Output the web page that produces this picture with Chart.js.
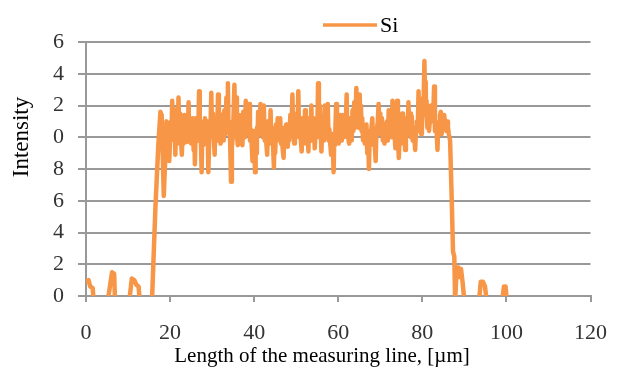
<!DOCTYPE html>
<html>
<head>
<meta charset="utf-8">
<script src="https://cdn.jsdelivr.net/npm/chart.js@4"></script>
<style>
  html, body { margin: 0; padding: 0; background: #fff; }
  #wrap { width: 625px; height: 386px; }
</style>
</head>
<body>
<div id="wrap"><canvas id="siChart" width="625" height="386"></canvas></div>
<script>
// Si line scan: distance along the measuring line [µm] and intensity
const distance = [
  0, 0.6, 1.0, 1.6, 1.8, 5.2, 5.8, 6.2, 6.7, 6.9,
  10.3, 10.9, 11.5, 12.0, 12.5, 12.8, 15.7, 16.5, 17.2, 17.7,
  18.0, 18.5, 18.75, 19.0, 19.15, 19.3, 19.55, 19.8, 20.0, 20.2,
  20.35, 20.5, 20.7, 20.9, 21.1, 21.25, 21.45, 21.6, 21.8, 22.0,
  22.2, 22.4, 22.6, 22.8, 23.0, 23.2, 23.4, 23.6, 23.8, 24.0,
  24.2, 24.4, 24.6, 24.8, 25.0, 25.2, 25.4, 25.6, 25.75, 25.9,
  26.15, 26.4, 26.65, 26.9, 27.05, 27.2, 27.35, 27.5, 27.7, 27.9,
  28.1, 28.3, 28.5, 28.7, 28.9, 29.1, 29.3, 29.5, 29.65, 29.8,
  30.0, 30.2, 30.4, 30.6, 30.8, 31.0, 31.2, 31.4, 31.6, 31.8,
  32.0, 32.2, 32.4, 32.6, 32.75, 32.9, 33.15, 33.4, 33.6, 33.75,
  33.9, 34.1, 34.3, 34.5, 34.7, 34.9, 35.1, 35.3, 35.5, 35.7,
  35.9, 36.1, 36.3, 36.5, 36.7, 36.9, 37.05, 37.2, 37.4, 37.6,
  37.8, 38.0, 38.2, 38.4, 38.6, 38.8, 39.0, 39.2, 39.4, 39.6,
  39.9, 40.2, 40.35, 40.5, 40.65, 40.8, 40.95, 41.1, 41.3, 41.5,
  41.7, 41.9, 42.1, 42.3, 42.5, 42.7, 42.9, 43.1, 43.3, 43.5,
  43.7, 43.9, 44.1, 44.3, 44.5, 44.7, 44.85, 45.0, 45.2, 45.4,
  45.6, 45.8, 46.0, 46.2, 46.4, 46.6, 46.8, 47.0, 47.2, 47.4,
  47.6, 47.8, 48.0, 48.2, 48.4, 48.6, 48.85, 49.1, 49.25, 49.4,
  49.55, 49.7, 49.9, 50.1, 50.3, 50.5, 50.7, 50.9, 51.1, 51.3,
  51.5, 51.7, 51.9, 52.1, 52.3, 52.5, 52.7, 52.9, 53.1, 53.3,
  53.45, 53.6, 53.8, 54.0, 54.2, 54.4, 54.6, 54.8, 55.0, 55.2,
  55.4, 55.6, 55.8, 56.0, 56.2, 56.4, 56.6, 56.8, 57.0, 57.2,
  57.35, 57.5, 57.7, 57.9, 58.1, 58.3, 58.6, 58.9, 59.05, 59.2,
  59.35, 59.5, 59.7, 59.9, 60.1, 60.3, 60.5, 60.7, 60.85, 61.0,
  61.25, 61.5, 61.75, 62.0, 62.15, 62.3, 62.45, 62.6, 62.8, 63.0,
  63.2, 63.4, 63.6, 63.8, 64.05, 64.3, 64.5, 64.7, 64.9, 65.1,
  65.25, 65.4, 65.55, 65.7, 65.9, 66.1, 66.3, 66.5, 66.7, 66.9,
  67.1, 67.3, 67.5, 67.7, 67.9, 68.1, 68.3, 68.5, 68.7, 68.9,
  69.05, 69.2, 69.4, 69.6, 69.8, 70.0, 70.2, 70.4, 70.6, 70.8,
  71.0, 71.2, 71.4, 71.6, 71.8, 72.0, 72.25, 72.5, 72.7, 72.9,
  73.05, 73.2, 73.4, 73.6, 73.8, 74.0, 74.2, 74.4, 74.6, 74.8,
  75.0, 75.2, 75.4, 75.6, 75.75, 75.9, 76.1, 76.3, 76.5, 76.7,
  76.9, 77.1, 77.3, 77.5, 77.7, 77.9, 78.1, 78.3, 78.5, 78.7,
  78.9, 79.1, 79.3, 79.5, 79.7, 79.9, 80.05, 80.2, 80.35, 80.5,
  80.65, 80.8, 80.9, 81.0, 81.2, 81.4, 81.6, 81.8, 82.05, 82.3,
  82.55, 82.8, 83.0, 83.2, 83.4, 83.6, 83.8, 84.0, 84.2, 84.4,
  84.6, 84.8, 85.0, 85.2, 85.45, 85.7, 85.9, 86.1, 86.3, 86.6,
  87.0, 87.3, 87.6, 87.8, 88.2, 88.6, 88.9, 89.2, 89.6, 90.0,
  93.5, 93.9, 94.4, 94.9, 95.3, 99.0, 99.4, 99.8, 100.1, 101.0
];
const intensity = [
  0.9, 1.0, 0.6, 0.5, -0.3, -0.3, 0.8, 1.5, 1.4, -0.3,
  -0.3, 1.1, 1.0, 0.7, 0.6, -0.3, -0.3, 5.5, 9.5, 11.6,
  11.4, 6.3, 8.0, 9.2, 11.0, 10.0, 9.8, 8.5, 9.8, 11.0,
  10.2, 12.3, 10.0, 11.8, 10.6, 8.9, 11.2, 10.5, 9.6, 12.5,
  10.2, 11.5, 9.8, 8.9, 10.8, 9.6, 11.4, 10.8, 9.7, 11.2,
  10.0, 12.2, 9.8, 11.0, 9.6, 10.0, 11.2, 9.2, 10.6, 8.3,
  11.2, 10.5, 9.8, 12.9, 10.2, 11.0, 9.6, 7.8, 10.8, 9.5,
  10.6, 11.2, 9.6, 10.0, 11.0, 7.8, 9.8, 10.5, 11.0, 12.8,
  10.2, 11.5, 10.0, 8.9, 11.2, 10.5, 9.8, 12.7, 10.4, 11.5,
  9.6, 10.0, 11.4, 10.8, 9.8, 11.7, 10.2, 12.5, 10.6, 13.4,
  10.4, 11.0, 9.6, 7.2, 9.4, 10.0, 11.4, 13.3, 10.6, 12.5,
  10.2, 9.5, 11.4, 11.0, 9.6, 10.5, 11.4, 9.5, 11.6, 10.8,
  10.0, 12.3, 10.2, 11.5, 10.4, 12.1, 9.8, 10.5, 9.6, 8.5,
  10.4, 7.8, 9.8, 9.0, 10.6, 10.0, 11.6, 11.0, 10.2, 12.1,
  10.6, 11.2, 10.0, 12.0, 9.8, 10.5, 9.6, 8.9, 11.0, 10.2,
  9.6, 11.7, 9.8, 10.6, 9.4, 8.1, 10.0, 9.0, 10.8, 10.0,
  11.2, 10.8, 9.8, 11.2, 9.6, 10.0, 9.2, 8.7, 10.6, 9.5,
  10.8, 10.0, 9.4, 10.8, 9.8, 11.4, 10.2, 12.7, 10.4, 11.5,
  9.6, 10.0, 11.2, 11.5, 10.2, 12.9, 10.0, 11.0, 9.8, 9.1,
  11.2, 10.5, 9.8, 11.7, 9.6, 10.5, 11.0, 9.1, 11.2, 10.8,
  9.8, 12.0, 10.0, 10.5, 11.2, 9.3, 10.4, 11.0, 10.0, 13.4,
  10.8, 12.0, 10.4, 9.1, 11.0, 10.5, 9.8, 12.0, 10.2, 11.5,
  10.0, 12.1, 9.8, 10.5, 9.6, 8.9, 10.2, 7.8, 10.0, 9.5,
  10.8, 12.1, 10.0, 11.0, 9.6, 10.0, 11.4, 10.8, 9.8, 11.4,
  10.0, 11.0, 10.4, 12.7, 10.0, 11.0, 9.8, 9.6, 11.2, 10.5,
  9.8, 11.7, 10.4, 12.2, 10.6, 13.1, 10.8, 12.0, 10.6, 12.7,
  10.8, 12.0, 10.4, 11.2, 9.8, 10.5, 9.6, 10.0, 10.8, 9.0,
  10.2, 8.0, 10.4, 9.5, 10.6, 11.2, 9.6, 10.0, 9.4, 8.5,
  10.2, 10.5, 11.0, 12.1, 10.2, 11.5, 10.2, 11.2, 9.8, 10.5,
  9.6, 10.0, 10.8, 11.0, 9.8, 11.7, 10.2, 11.0, 10.0, 12.3,
  10.0, 11.0, 10.2, 9.3, 10.8, 12.3, 10.2, 8.7, 10.0, 10.5,
  9.6, 11.5, 10.2, 10.0, 11.2, 9.2, 10.4, 11.0, 10.2, 12.2,
  10.4, 11.5, 10.0, 11.3, 9.8, 10.5, 10.0, 9.2, 10.6, 11.0,
  10.4, 12.9, 10.6, 11.5, 10.2, 10.6, 11.6, 12.5, 13.0, 14.8,
  12.2, 13.5, 11.4, 12.3, 10.6, 11.2, 10.4, 10.4, 12.0, 11.8,
  11.0, 13.2, 10.4, 11.0, 10.4, 9.2, 10.8, 10.5, 11.4, 11.6,
  10.2, 11.2, 10.6, 11.4, 10.8, 10.4, 11.0, 10.6, 10.2, 9.8,
  6.0, 2.8, 2.5, -0.3, 1.8, 1.8, 1.2, 1.7, 0.8, -0.3,
  -0.3, 0.9, 0.9, 0.6, -0.3, -0.3, 0.6, 0.6, -0.3, -0.3
];

// Axis tick labels as printed on the original (values 0..16 step 2)
const yTickLabels = ["0", "2", "4", "6", "8", "0", "2", "4", "6"];
const xTickLabels = ["0", "20", "40", "60", "80", "100", "120"];

const seriesName = "Si";
const xTitle = "Length of the measuring line, [\u00b5m]";
const yTitle = "Intensity";

const lineColor = "#F79646";
const gridColor = "#999999";
const serif = "'Liberation Serif', 'Times New Roman', serif";

// Draw legend and axis titles at fixed spots
const textPlugin = {
  id: "textPlugin",
  afterDraw(chart) {
    const ctx = chart.ctx;
    ctx.save();
    // legend
    ctx.strokeStyle = lineColor;
    ctx.lineWidth = 3.5;
    ctx.beginPath();
    ctx.moveTo(323, 25);
    ctx.lineTo(377, 25);
    ctx.stroke();
    ctx.fillStyle = "#000";
    ctx.font = "22px " + serif;
    ctx.textBaseline = "middle";
    ctx.textAlign = "left";
    ctx.fillText(seriesName, 380, 26);
    // x title
    ctx.font = "21px " + serif;
    ctx.textAlign = "center";
    ctx.fillText(xTitle, 322, 356);
    // y title
    ctx.translate(22, 137);
    ctx.rotate(-Math.PI / 2);
    ctx.font = "23px " + serif;
    ctx.fillText(yTitle, 0, 0);
    ctx.restore();
  }
};

const config = {
  type: "line",
  data: {
    datasets: [{
      label: seriesName,
      data: distance.map((d, i) => ({ x: d, y: intensity[i] })),
      borderColor: lineColor,
      backgroundColor: lineColor,
      borderWidth: 4.5,
      borderJoinStyle: "round",
      borderCapStyle: "round",
      pointRadius: 0,
      tension: 0,
      clip: 0
    }]
  },
  options: {
    responsive: false,
    animation: false,
    layout: { padding: { left: 0, right: 27, top: 42, bottom: 0 } },
    plugins: { legend: { display: false }, tooltip: { enabled: false } },
    scales: {
      x: {
        type: "linear",
        min: 0,
        max: 120,
        afterFit: (scale) => { scale.height = 90; },
        ticks: {
          stepSize: 20,
          padding: 18,
          color: "#333",
          font: { family: serif, size: 22 },
          maxRotation: 0,
          callback: (v, i) => xTickLabels[i]
        },
        grid: { drawOnChartArea: false, drawTicks: true, tickLength: 6, color: gridColor, lineWidth: 2 },
        border: { color: gridColor, width: 2 }
      },
      y: {
        min: 0,
        max: 16,
        afterFit: (scale) => { scale.width = 86; },
        ticks: {
          stepSize: 2,
          padding: 14,
          color: "#333",
          font: { family: serif, size: 22 },
          callback: (v, i) => yTickLabels[i]
        },
        grid: { color: gridColor, lineWidth: 2, tickLength: 8 },
        border: { color: gridColor, width: 2 }
      }
    }
  },
  plugins: [textPlugin]
};

const siChart = new Chart(document.getElementById("siChart"), config);
</script>
</body>
</html>
